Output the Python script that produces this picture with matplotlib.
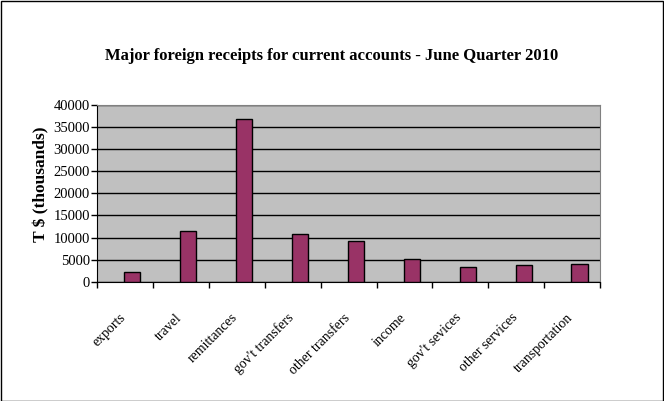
import matplotlib
matplotlib.use("Agg")
import matplotlib.pyplot as plt
from matplotlib.patches import Rectangle
import numpy as np

categories = ["exports", "travel", "remittances", "gov't transfers", "other transfers",
              "income", "gov't sevices", "other services", "transportation"]
receipts = [2300, 11400, 36700, 10700, 9300, 5100, 3400, 3800, 4100]
yticks = [0, 5000, 10000, 15000, 20000, 25000, 30000, 35000, 40000]

plt.rcParams['font.family'] = ['Liberation Serif', 'DejaVu Serif']

fig = plt.figure(figsize=(6.64, 4.01), dpi=100)
fig.patches.append(Rectangle((0.001, 0.001), 0.997, 0.996, transform=fig.transFigure,
                             fill=False, edgecolor='black', linewidth=1))
ax = fig.add_axes([0.146, 0.297, 0.758, 0.442])
ax.set_facecolor('#C0C0C0')

x = np.arange(len(categories))
ax.bar(x + 0.13, receipts, width=0.29, color='#993366', edgecolor='black', linewidth=1, zorder=3)

ax.set_xlim(-0.5, len(categories) - 0.5)
ax.set_ylim(0, 40000)
ax.set_yticks(yticks)
ax.set_yticklabels([str(v) for v in yticks], fontsize=10.5)
ax.grid(axis='y', color='black', linewidth=1, zorder=1)
ax.tick_params(axis='y', direction='out', length=4, width=1, pad=1)

# category boundaries as ticks, labels at centers
ax.set_xticks(np.arange(len(categories) + 1) - 0.5)
ax.set_xticklabels([])
ax.tick_params(axis='x', which='major', direction='out', length=4, width=1)
ax.set_xticks(x - 0.1, minor=True)
ax.set_xticklabels(categories, minor=True, rotation=45, ha='right',
                   rotation_mode='anchor', fontsize=10)
ax.tick_params(axis='x', which='minor', length=0, pad=21)

for side in ['top', 'right']:
    ax.spines[side].set_color('#808080')
ax.spines['left'].set_color('black')
ax.spines['bottom'].set_color('black')

ax.set_ylabel("T $ (thousands)", fontsize=12.5, fontweight='bold', labelpad=3)
ax.yaxis.set_label_coords(-0.095, 0.55)
fig.text(0.5, 0.86, "Major foreign receipts for current accounts - June Quarter 2010",
         ha='center', va='center', fontsize=12, fontweight='bold')

fig.savefig("out.png", dpi=100)
